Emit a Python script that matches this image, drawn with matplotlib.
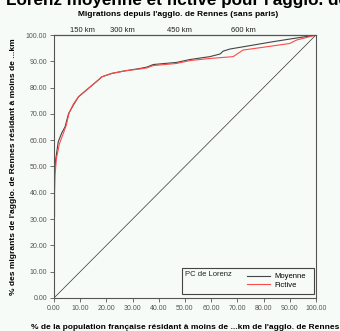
import matplotlib
matplotlib.use("Agg")
import matplotlib.pyplot as plt
from matplotlib.patches import Rectangle

plt.rcParams['font.family'] = ['Liberation Sans', 'DejaVu Sans']

# courbe de Lorenz moyenne
moy_x = [0, 0, 0.1, 0.6, 1.6, 2.9, 4.2, 5.5, 7.4, 9.3, 13.1, 16.9, 18.2, 22, 27.1,
         32.8, 35.4, 37.9, 46.8, 51.9, 59.5, 63.4, 64.6, 67.2, 76.1, 83.7, 90.1, 100]
moy_y = [20, 35, 46, 52.5, 59.4, 62.7, 65.1, 70, 73.4, 76.5, 79.7, 82.9, 84.1, 85.4, 86.4,
         87.3, 87.8, 88.8, 89.6, 90.7, 91.8, 92.8, 93.9, 94.7, 96.2, 97.5, 98.5, 100]

# courbe de Lorenz fictive
fic_x = [0.2, 0.2, 0.4, 0.9, 2.0, 3.5, 4.6, 5.8, 7.4, 9.3, 13.1, 16.9, 18.2, 22, 27.1,
         32.8, 35.4, 37.9, 46.8, 51.9, 59.5, 68.4, 72.2, 83.7, 90.0, 92.6, 100]
fic_y = [31, 40, 47, 53, 58.5, 62.5, 65.5, 70.5, 73.8, 76.5, 79.7, 82.9, 84.1, 85.4, 86.4,
         87.1, 87.5, 88.4, 89.2, 90.3, 91.1, 91.8, 94.3, 95.9, 96.8, 98.1, 100]

# distances reportees sur l'axe du haut
km_pos = [10.7, 26.0, 48.0, 72.5]
km_labels = ["150 km", "300 km", "450 km", "600 km"]

ticks = [0, 10, 20, 30, 40, 50, 60, 70, 80, 90, 100]
tick_labels = ["%.2f" % t for t in ticks]

bg = "#f6fbf8"
fig = plt.figure(figsize=(3.4, 3.31), dpi=100, facecolor=bg)
ax = fig.add_axes([0.159, 0.100, 0.770, 0.794], facecolor=bg)

ax.plot([0, 100], [0, 100], color="#333333", lw=0.5)
ax.plot(moy_x, moy_y, color="#444444", lw=0.8, label="Moyenne")
ax.plot(fic_x, fic_y, color="#ff4a4a", lw=0.8, label="Fictive")

ax.set_xlim(0, 100)
ax.set_ylim(0, 100)
ax.set_xticks(ticks)
ax.set_xticklabels(tick_labels)
ax.set_yticks(ticks)
ax.set_yticklabels(tick_labels)
ax.tick_params(labelsize=5, colors="#555555", length=3, width=0.6, pad=2)
for s in ax.spines.values():
    s.set_color("#555555")
    s.set_linewidth(0.8)

top = ax.secondary_xaxis("top")
top.set_xticks(km_pos)
top.set_xticklabels(km_labels)
top.tick_params(length=0, pad=1, labelsize=5.5, colors="#222222")

ax.set_xlabel("% de la population française résidant à moins de ...km de l'agglo. de Rennes",
              fontsize=6, fontweight="bold", labelpad=9)
ax.set_ylabel("% des migrants de l'agglo. de Rennes résidant à moins de ...km",
              fontsize=6, fontweight="bold", labelpad=6)

# cadre de legende : titre a gauche, entrees a droite
ax.add_patch(Rectangle((0.489, 0.015), 0.503, 0.099, transform=ax.transAxes,
                       fill=False, edgecolor="#444444", lw=0.8, zorder=5))
ax.text(0.50, 0.088, "PC de Lorenz", transform=ax.transAxes, fontsize=5.5,
        ha="left", va="center", color="#222222")
leg = ax.legend(loc="upper left", bbox_to_anchor=(0.715, 0.118), fontsize=5.5,
                frameon=False, handlelength=2.9, handletextpad=0.6,
                borderpad=0.3, labelspacing=0.15)

fig.text(0.018, 0.998, "Lorenz moyenne et fictive pour l'agglo. de Rennes",
         ha="left", va="center", fontsize=12.3, fontweight="bold")
fig.text(0.523, 0.955, "Migrations depuis l'agglo. de Rennes (sans paris)",
         ha="center", va="center", fontsize=6, fontweight="bold")

fig.savefig("out.png", dpi=100, facecolor=bg)
